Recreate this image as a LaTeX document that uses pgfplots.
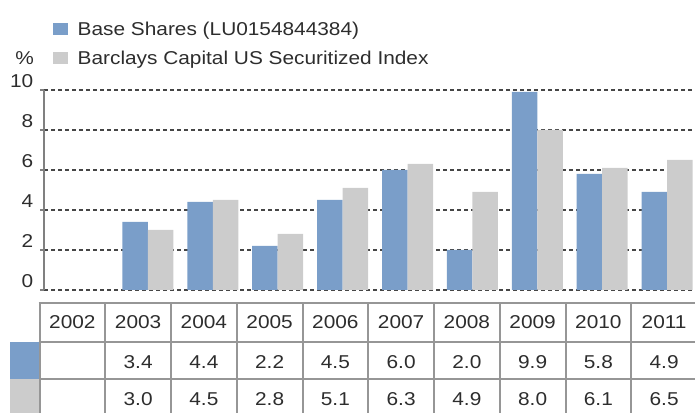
\documentclass[border=0pt]{standalone}
\usepackage{pgfplots}
\pgfplotsset{compat=1.18}
\usepackage{fontspec}
\setmainfont[FakeStretch=1.12]{Liberation Sans}
\definecolor{barblue}{RGB}{122,158,201}
\definecolor{bargray}{RGB}{204,204,204}
\definecolor{txt}{RGB}{45,45,45}
\definecolor{tblline}{RGB}{150,150,150}
\definecolor{axgray}{RGB}{128,128,128}
\definecolor{gridc}{RGB}{70,70,70}
\newcommand{\fs}{\fontsize{18.6}{21}\selectfont}
\begin{document}
\begin{tikzpicture}
\useasboundingbox (0pt,0pt) rectangle (695pt,412pt);
\begin{axis}[
  at={(44pt,122pt)}, anchor=south west,
  scale only axis, width=651pt, height=200pt,
  xmin=-0.601, xmax=9.43, ymin=0, ymax=10,
  axis x line=none, axis y line*=left,
  y axis line style={draw=axgray, line width=2pt, -},
  ytick={0,2,4,6,8,10}, xtick=\empty,
  ymajorgrids, grid style={draw=gridc, line width=1.1pt, dash pattern=on 4pt off 3pt},
  major tick length=4pt, tick align=outside,
  ytick style={draw=axgray, line width=1.5pt},
  /pgf/number format/assume math mode=true,
  yticklabel style={font=\fs, text=txt, anchor=base east, inner sep=0pt, xshift=-6.5pt, yshift=2pt},
  clip=false,
]
\addplot[ybar, bar width=25.5pt, bar shift=-12.75pt, fill=barblue, draw=none] coordinates {
  (1,3.4) (2,4.4) (3,2.2) (4,4.5) (5,6.0) (6,2.0) (7,9.9) (8,5.8) (9,4.9)};
\addplot[ybar, bar width=25.5pt, bar shift=12.75pt, fill=bargray, draw=none] coordinates {
  (1,3.0) (2,4.5) (3,2.8) (4,5.1) (5,6.3) (6,4.9) (7,8.0) (8,6.1) (9,6.5)};
\end{axis}
% legend
\fill[barblue] (52.7pt,377pt) rectangle (68.3pt,388.7pt);
\fill[bargray] (52.7pt,347.7pt) rectangle (68.3pt,359.7pt);
\node[anchor=base west, inner sep=0pt, font=\fs, text=txt] at (77.5pt,376pt) {Base Shares (LU0154844384)};
\node[anchor=base west, inner sep=0pt, font=\fs, text=txt] at (77.5pt,347pt) {Barclays Capital US Securitized Index};
\node[anchor=base east, inner sep=0pt, font=\fs, text=txt] at (34pt,347pt) {\%};
% table
\fill[barblue] (10pt,32.8pt) rectangle (39.5pt,70.3pt);
\fill[bargray] (10pt,-6pt) rectangle (39.5pt,32.8pt);
\foreach \k in {0,...,10} {
  \draw[tblline, line width=2pt] ({39.5pt+65.75pt*\k},108.5pt) -- ({39.5pt+65.75pt*\k},-6pt);
}
\foreach \yy in {108.5,70.3,32.8} {
  \draw[tblline, line width=2pt] (38.5pt,\yy pt) -- (700pt,\yy pt);
}
\foreach \lab [count=\i from 0] in {2002,2003,2004,2005,2006,2007,2008,2009,2010,2011} {
  \node[anchor=base, inner sep=0pt, font=\fs, text=txt] at ({39.5pt+65.75pt*\i+32.875pt},83.5pt) {\lab};
}
\foreach \lab [count=\i from 1] in {3.4,4.4,2.2,4.5,6.0,2.0,9.9,5.8,4.9} {
  \node[anchor=base, inner sep=0pt, font=\fs, text=txt] at ({39.5pt+65.75pt*\i+32.875pt},44pt) {\lab};
}
\foreach \lab [count=\i from 1] in {3.0,4.5,2.8,5.1,6.3,4.9,8.0,6.1,6.5} {
  \node[anchor=base, inner sep=0pt, font=\fs, text=txt] at ({39.5pt+65.75pt*\i+32.875pt},6.5pt) {\lab};
}
\end{tikzpicture}
\end{document}
